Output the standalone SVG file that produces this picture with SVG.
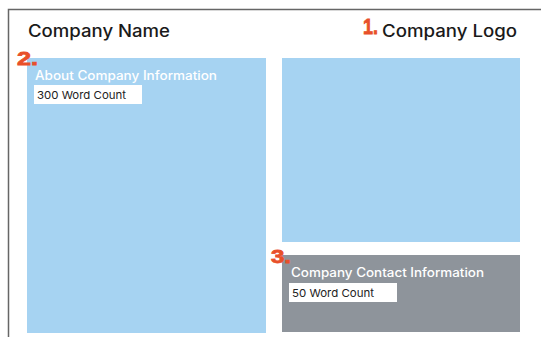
<svg xmlns="http://www.w3.org/2000/svg" width="541" height="337" viewBox="0 0 541 337">
<style>
.t{font-family:Inter,"Open Sans","Liberation Sans",Arial,sans-serif}
.h{font-size:17px;font-weight:500;fill:#1a1a1a}
.w{font-size:12.5px;font-weight:500;fill:#fff}
.c{font-size:11px;font-weight:400;fill:#222}
.n{font-family:"Liberation Sans",Arial,sans-serif;font-weight:bold;fill:#E8502A;stroke:#E8502A;stroke-width:0.8}
.blue{fill:#A6D3F2}
.gray{fill:#8E949B}
.box{fill:#fff}
</style>
<rect width="541" height="337" fill="#fff"/>
<g id="frame">
<path d="M8.5 337 V9.5 H541" fill="none" stroke="#666" stroke-width="1.5"/>
</g>
<g id="header">
<text class="t h" x="28" y="37" textLength="142" lengthAdjust="spacingAndGlyphs">Company Name</text>
<text class="n" x="363" y="34" style="font-size:22px" textLength="15" lengthAdjust="spacingAndGlyphs">1.</text>
<text class="t h" x="382" y="37" textLength="135" lengthAdjust="spacingAndGlyphs">Company Logo</text>
</g>
<g id="about">
<rect class="blue" x="27" y="58" width="239" height="275"/>
<text class="n" x="17" y="65" style="font-size:19px" textLength="21" lengthAdjust="spacingAndGlyphs">2.</text>
<text class="t w" x="35" y="80" textLength="182" lengthAdjust="spacingAndGlyphs">About Company Information</text>
<rect class="box" x="34" y="85" width="108" height="19"/>
<text class="t c" x="37" y="99" textLength="89" lengthAdjust="spacingAndGlyphs">300 Word Count</text>
</g>
<g id="logo">
<rect class="blue" x="282" y="58" width="238" height="184"/>
</g>
<g id="contact">
<rect class="gray" x="282" y="255" width="238" height="77"/>
<text class="n" x="271" y="263" style="font-size:19px" textLength="20" lengthAdjust="spacingAndGlyphs">3.</text>
<text class="t w" x="291" y="277" textLength="193" lengthAdjust="spacingAndGlyphs">Company Contact Information</text>
<rect class="box" x="289" y="283" width="108" height="19"/>
<text class="t c" x="292" y="297" textLength="82" lengthAdjust="spacingAndGlyphs">50 Word Count</text>
</g>
<g id="connectors"></g>
</svg>
